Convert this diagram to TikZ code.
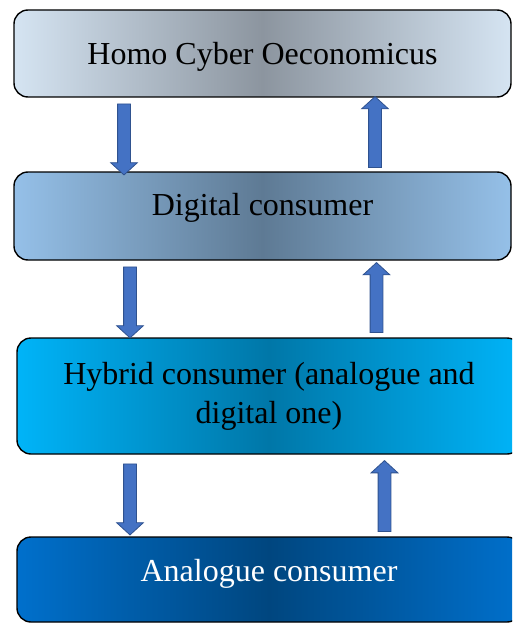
\documentclass[tikz,border=0pt]{standalone}
\usepackage{fontspec}
\setmainfont{Liberation Serif}
\usetikzlibrary{shapes.arrows}

\definecolor{hcoedge}{HTML}{D5E4F2}
\definecolor{hcomid}{HTML}{8C959F}
\definecolor{digedge}{HTML}{95C0E8}
\definecolor{digmid}{HTML}{5E7A94}
\definecolor{hybedge}{HTML}{00B4F8}
\definecolor{hybmid}{HTML}{0077A8}
\definecolor{anaedge}{HTML}{0070CC}
\definecolor{anamid}{HTML}{00467F}
\definecolor{arrowfill}{HTML}{4472C4}
\definecolor{arrowedge}{HTML}{2F528F}

\begin{document}
\begin{tikzpicture}[x=1pt, y=-1pt,
    box/.style={draw=black, line width=1.4pt, rounded corners=14pt, inner sep=0pt,
        align=center, font=\fontsize{32}{39}\selectfont},
    blockarrow/.style={single arrow, fill=arrowfill, draw=arrowedge, line width=0.8pt,
        inner xsep=0pt, inner ysep=6pt, minimum width=26pt, minimum height=71pt,
        single arrow head extend=7pt, single arrow tip angle=95}]
    \clip (0,0) rectangle (512,623);

    % Boxes
    \node[box, minimum width=497pt, minimum height=87pt, text height=22pt, text depth=0pt,
        left color=hcoedge, right color=hcoedge, middle color=hcomid]
        (hco) at (262.5,53.5) {Homo Cyber Oeconomicus};
    \node[box, minimum width=497pt, minimum height=88pt, text height=22pt, text depth=24pt,
        left color=digedge, right color=digedge, middle color=digmid]
        (digital) at (262.5,216) {Digital consumer};
    \node[box, minimum width=504pt, minimum height=116pt,
        left color=hybedge, right color=hybedge, middle color=hybmid]
        (hybrid) at (269,396) {Hybrid consumer (analogue and\\digital one)};
    \node[box, minimum width=504pt, minimum height=85pt, text height=22pt, text depth=19pt,
        text=white, left color=anaedge, right color=anaedge, middle color=anamid]
        (analogue) at (269,579.5) {Analogue consumer};

    % Arrows down
    \node[blockarrow, rotate=-90] (d1) at (124,136.5) {};
    \node[blockarrow, rotate=-90] (d2) at (130,299.5) {};
    \node[blockarrow, rotate=-90] (d3) at (130,496.5) {};

    % Arrows up
    \node[blockarrow, rotate=90] (u1) at (375,135) {};
    \node[blockarrow, rotate=90, minimum height=70pt] (u2) at (376.5,300.5) {};
    \node[blockarrow, rotate=90] (u3) at (384.5,499) {};
\end{tikzpicture}
\end{document}
